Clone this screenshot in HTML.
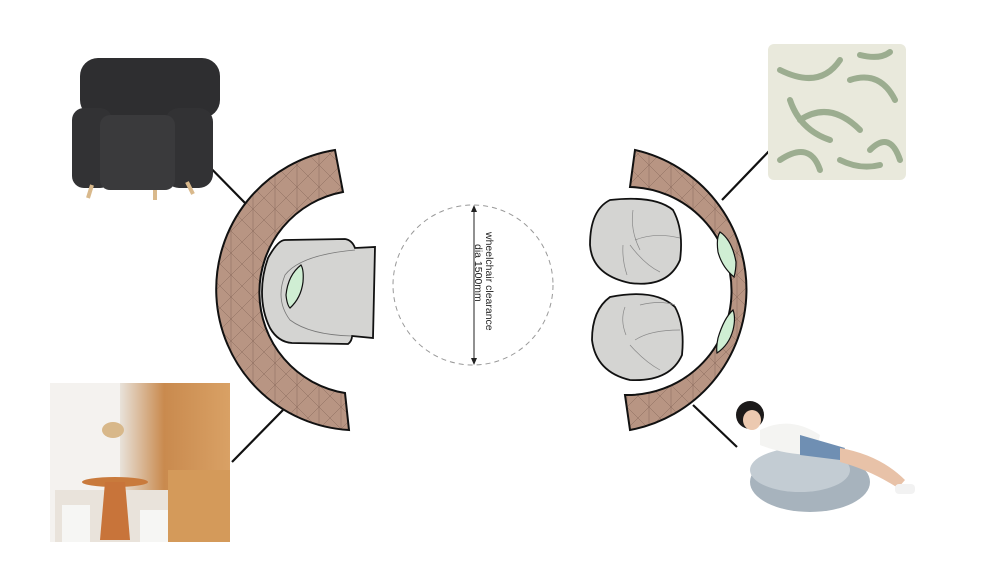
<!DOCTYPE html>
<html><head><meta charset="utf-8"><style>
html,body{margin:0;padding:0;background:#fff;width:1000px;height:567px;overflow:hidden}
svg{display:block}
text{font-family:"Liberation Sans",sans-serif}
</style></head><body>
<svg width="1000" height="567" viewBox="0 0 1000 567" xmlns="http://www.w3.org/2000/svg">
<defs>
<pattern id="hatch" width="22" height="22" patternUnits="userSpaceOnUse">
<rect width="22" height="22" fill="#b89583"/>
<path d="M0 22L22 0M0 0L22 22M11 0V22" stroke="#8a6a5c" stroke-width="0.5" fill="none"/>
</pattern>
<linearGradient id="wood" x1="0" x2="1"><stop offset="0" stop-color="#e8e2da"/><stop offset="0.4" stop-color="#c98a4e"/><stop offset="1" stop-color="#d9a165"/></linearGradient>
</defs>

<g stroke="#111" stroke-width="2.2">
<line x1="195" y1="152" x2="247" y2="205"/>
<line x1="232" y1="462" x2="283" y2="410"/>
<line x1="772" y1="148" x2="722" y2="200"/>
<line x1="693" y1="405" x2="737" y2="447"/>
</g>

<!-- armchair image -->
<g>
<rect x="80" y="58" width="140" height="60" rx="18" fill="#2e2e30"/>
<rect x="72" y="108" width="40" height="80" rx="12" fill="#323234"/>
<rect x="165" y="108" width="48" height="80" rx="14" fill="#323234"/>
<rect x="100" y="115" width="75" height="75" rx="10" fill="#3a3a3c"/>
<line x1="92" y1="185" x2="88" y2="198" stroke="#d9b98c" stroke-width="4"/>
<line x1="187" y1="182" x2="193" y2="194" stroke="#d9b98c" stroke-width="4"/>
<line x1="155" y1="190" x2="155" y2="200" stroke="#d9b98c" stroke-width="4"/>
</g>

<!-- interior photo -->
<g>
<rect x="50" y="383" width="180" height="159" fill="#f2efea"/>
<rect x="120" y="383" width="110" height="159" fill="url(#wood)"/>
<rect x="50" y="383" width="70" height="159" fill="#f4f2ef"/>
<rect x="55" y="490" width="175" height="52" fill="#e9e3db"/>
<rect x="168" y="470" width="62" height="72" fill="#d49a5a"/>
<ellipse cx="115" cy="482" rx="33" ry="5" fill="#c97a3c"/>
<path d="M105 482 L100 540 H130 L125 482Z" fill="#c8743a"/>
<rect x="62" y="505" width="28" height="37" fill="#f6f6f4"/>
<rect x="140" y="510" width="28" height="32" fill="#f6f6f4"/>
<ellipse cx="113" cy="430" rx="11" ry="8" fill="#d8b88a"/>
</g>

<!-- pillow -->
<g>
<rect x="768" y="44" width="138" height="136" rx="6" fill="#e9e9dc"/>
<g stroke="#8fa383" stroke-width="6" fill="none" opacity="0.85" stroke-linecap="round">
<path d="M780 70 Q820 90 840 60"/><path d="M800 120 Q830 100 860 130"/>
<path d="M780 160 Q810 140 820 170"/><path d="M850 80 Q880 70 895 100"/>
<path d="M870 150 Q890 130 900 160"/><path d="M790 100 Q800 130 830 140"/>
<path d="M840 160 Q860 170 880 165"/><path d="M860 55 Q880 60 890 52"/>
</g>
</g>

<!-- girl on beanbag -->
<g>
<ellipse cx="810" cy="482" rx="60" ry="30" fill="#a7b3bd"/>
<ellipse cx="800" cy="470" rx="50" ry="22" fill="#c3ccd3"/>
<path d="M760 430 Q790 415 820 435 L815 455 Q785 455 760 445Z" fill="#f4f4f2"/>
<path d="M800 435 L845 448 L840 460 L800 455Z" fill="#6f8fb3"/>
<path d="M840 448 Q880 455 905 480 L898 488 Q870 470 840 462Z" fill="#e8c2a8"/>
<circle cx="750" cy="415" r="14" fill="#1c1a1a"/>
<ellipse cx="752" cy="420" rx="9" ry="10" fill="#ecc9b0"/>
<rect x="895" y="484" width="20" height="10" rx="4" fill="#f2f2f2"/>
</g>

<!-- left arc -->
<path d="M335 150 A141 141 0 0 0 349 430 L345 393 A102 102 0 0 1 343 192 Z" fill="url(#hatch)" stroke="#111" stroke-width="2"/>

<!-- left armchair plan -->
<path d="M285 240 Q278 240 268 258 Q262 275 262 292 Q262 312 270 328 Q278 342 292 343 L348 344 Q352 341 352 336 L373 338 L375 247 L355 248 Q352 240 345 239 Z" fill="#d4d4d2" stroke="#111" stroke-width="1.8"/>
<path d="M355 250 Q300 255 285 275 Q275 300 290 320 Q310 335 352 336" fill="none" stroke="#777" stroke-width="0.8"/>
<path d="M301 265 Q288 275 286 295 Q287 305 290 308 Q301 298 303 282 Q304 270 301 265Z" fill="#cfeed3" stroke="#111" stroke-width="1.2"/>

<!-- wheelchair clearance -->
<circle cx="473" cy="285" r="80" fill="none" stroke="#999" stroke-width="1" stroke-dasharray="5,4"/>
<line x1="474" y1="206" x2="474" y2="364" stroke="#222" stroke-width="1"/>
<path d="M471 212 L474 205 L477 212Z M471 358 L474 365 L477 358Z" fill="#222"/>
<text transform="translate(486,232) rotate(90)" font-size="10.5" fill="#222">wheelchair clearance</text>
<text transform="translate(475,244) rotate(90)" font-size="10.5" fill="#222">dia 1500mm</text>

<!-- right arc -->
<path d="M635 150 A143 143 0 0 1 630 430 L625 395 A104 104 0 0 0 630 187 Z" fill="url(#hatch)" stroke="#111" stroke-width="2"/>
<path d="M720 232 Q732 240 736 262 Q736 270 734 277 Q722 267 718 252 Q716 238 720 232Z" fill="#cfeed3" stroke="#111" stroke-width="1.2"/>
<path d="M733 310 Q724 318 718 338 Q716 348 717 353 Q729 345 733 330 Q736 318 733 310Z" fill="#cfeed3" stroke="#111" stroke-width="1.2"/>

<!-- beanbags -->
<path d="M610 200 Q590 210 590 245 Q592 275 630 283 Q668 288 680 260 Q684 230 673 210 Q655 195 610 200Z" fill="#d4d4d2" stroke="#111" stroke-width="1.8"/>
<path d="M610 297 Q592 310 592 340 Q596 372 630 380 Q670 382 682 355 Q685 325 675 307 Q655 288 610 297Z" fill="#d4d4d2" stroke="#111" stroke-width="1.8"/>
<g stroke="#888" stroke-width="0.7" fill="none">
<path d="M633 210 Q630 230 640 250"/><path d="M635 240 Q655 232 680 238"/><path d="M623 245 Q622 260 627 275"/><path d="M630 245 Q645 265 660 272"/>
<path d="M625 307 Q620 320 626 335"/><path d="M635 340 Q650 330 680 330"/><path d="M630 345 Q645 362 660 370"/><path d="M640 305 Q660 300 675 305"/>
</g>
</svg>
</body></html>
